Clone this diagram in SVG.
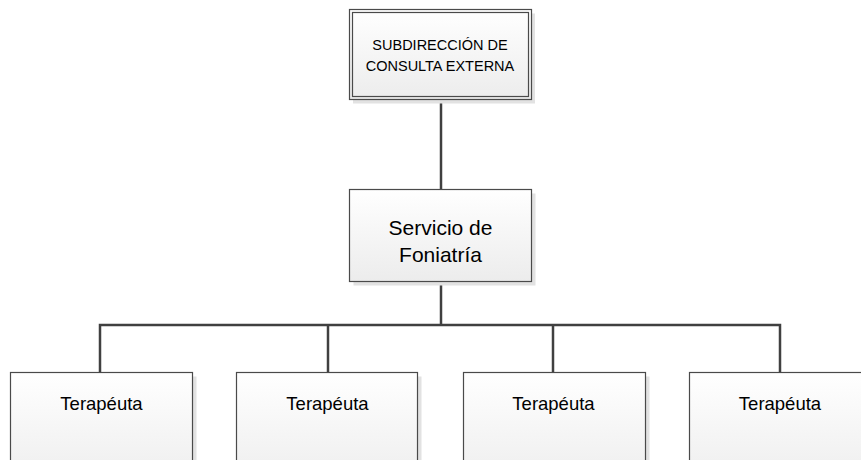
<svg xmlns="http://www.w3.org/2000/svg" width="861" height="460" viewBox="0 0 861 460">
<defs>
<linearGradient id="g" x1="0" y1="0" x2="0" y2="1">
<stop offset="0" stop-color="#ffffff"/>
<stop offset="1" stop-color="#ececec"/>
</linearGradient>
<linearGradient id="gb" gradientUnits="userSpaceOnUse" x1="0" y1="372" x2="0" y2="480">
<stop offset="0" stop-color="#ffffff"/>
<stop offset="1" stop-color="#eeeeee"/>
</linearGradient>
</defs>
<style>
.shadow{fill:#e2e2e2;stroke:none}
.box{fill:url(#g);stroke:#4a4a4a;stroke-width:1.2}
.boxb{fill:url(#gb);stroke:#4a4a4a;stroke-width:1.2}
.inner{fill:none;stroke:#4a4a4a;stroke-width:1.2}
.conn{fill:none;stroke:#404040;stroke-width:2.5}
text{font-family:"Liberation Sans",Arial,sans-serif;fill:#000;text-anchor:middle}
.t1{font-size:14.5px}
.t2{font-size:21px}
.t3{font-size:18.5px}
</style>
<g id="connectors">
<line class="conn" x1="441" y1="100" x2="441" y2="189"/>
<line class="conn" x1="441" y1="282" x2="441" y2="325"/>
<polyline class="conn" points="100,372 100,325 780,325 780,372"/>
<line class="conn" x1="328" y1="325" x2="328" y2="372"/>
<line class="conn" x1="553" y1="325" x2="553" y2="372"/>
</g>
<g id="subdireccion">
<rect class="shadow" x="353" y="13.5" width="182" height="90"/>
<rect class="box" x="349.5" y="9.5" width="182" height="90"/>
<rect class="inner" x="352.5" y="12.5" width="176" height="84"/>
<text class="t1" x="440" y="50">SUBDIRECCIÓN DE</text>
<text class="t1" x="440" y="70.5">CONSULTA EXTERNA</text>
</g>
<g id="servicio">
<rect class="shadow" x="353.5" y="193.5" width="182" height="92"/>
<rect class="box" x="349.5" y="189.5" width="182" height="92"/>
<text class="t2" x="440.5" y="235">Servicio de</text>
<text class="t2" x="440.5" y="262">Foniatría</text>
</g>
<g id="terapeuta1">
<rect class="shadow" x="14.5" y="376.5" width="182" height="100"/>
<rect class="boxb" x="10.5" y="372.5" width="182" height="100"/>
<text class="t3" x="101.5" y="410">Terapéuta</text>
</g>
<g id="terapeuta2">
<rect class="shadow" x="240.5" y="376.5" width="181" height="100"/>
<rect class="boxb" x="236.5" y="372.5" width="181" height="100"/>
<text class="t3" x="327.5" y="410">Terapéuta</text>
</g>
<g id="terapeuta3">
<rect class="shadow" x="467.5" y="376.5" width="182" height="100"/>
<rect class="boxb" x="463.5" y="372.5" width="182" height="100"/>
<text class="t3" x="553.5" y="410">Terapéuta</text>
</g>
<g id="terapeuta4">
<rect class="shadow" x="693.5" y="376.5" width="182" height="100"/>
<rect class="boxb" x="689.5" y="372.5" width="182" height="100"/>
<text class="t3" x="780" y="410">Terapéuta</text>
</g>
</svg>
